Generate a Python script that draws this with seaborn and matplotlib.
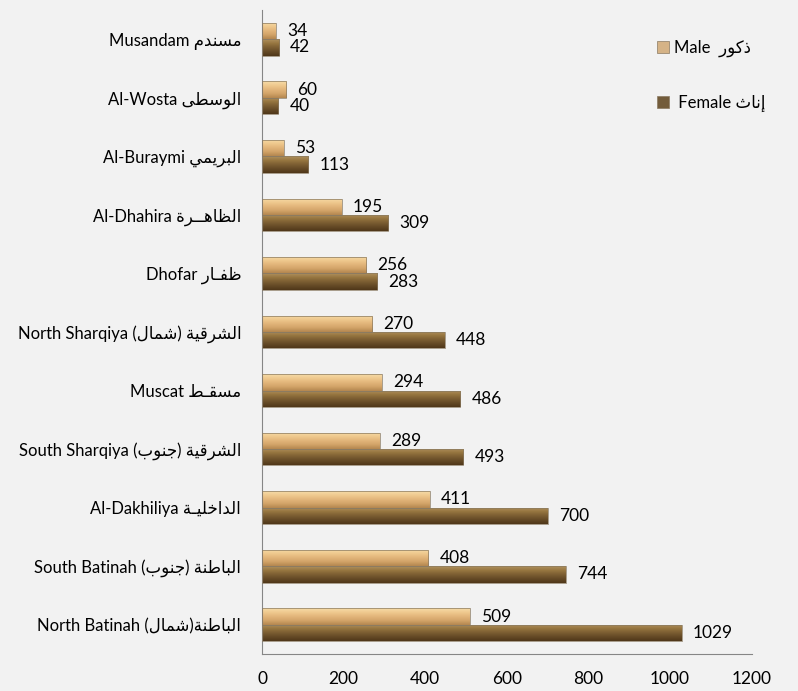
import numpy as np
import pandas as pd
import matplotlib
matplotlib.use("Agg")
import matplotlib.pyplot as plt
from matplotlib.colors import LinearSegmentedColormap
from matplotlib.ticker import FixedLocator
import seaborn as sns

# ---------------------------------------------------------------------------
# Data
# ---------------------------------------------------------------------------
regions_en = ["Musandam", "Al-Wosta", "Al-Buraymi", "Al-Dhahira", "Dhofar",
              "North Sharqiya", "Muscat", "South Sharqiya", "Al-Dakhiliya",
              "South Batinah", "North Batinah"]
regions_ar = ["مسندم", "الوسطى", "البريمي", "الظاهــرة", "ظفـار",
              "الشرقية (شمال)", "مسقـط", "الشرقية (جنوب)", "الداخليـة",
              "الباطنة (جنوب)", "الباطنة(شمال)"]
male = [34, 60, 53, 195, 256, 270, 294, 289, 411, 408, 509]
female = [42, 40, 113, 309, 283, 448, 486, 493, 700, 744, 1029]
series_en = ["Male", "Female"]
series_ar = ["ذكور", "إناث"]
x_ticks = [0, 200, 400, 600, 800, 1000, 1200]

# ---------------------------------------------------------------------------
# Arabic shaping: matplotlib does no contextual shaping or bidi reordering,
# so pick presentation forms here and lay the Arabic run out right-to-left.
# ---------------------------------------------------------------------------
FORMS = {  # isolated, final, initial, medial
    "ا": (0xFE8D, 0xFE8E, None, None),
    "إ": (0xFE87, 0xFE88, None, None),
    "ب": (0xFE8F, 0xFE90, 0xFE91, 0xFE92),
    "ة": (0xFE93, 0xFE94, None, None),
    "ث": (0xFE99, 0xFE9A, 0xFE9B, 0xFE9C),
    "ج": (0xFE9D, 0xFE9E, 0xFE9F, 0xFEA0),
    "خ": (0xFEA5, 0xFEA6, 0xFEA7, 0xFEA8),
    "د": (0xFEA9, 0xFEAA, None, None),
    "ذ": (0xFEAB, 0xFEAC, None, None),
    "ر": (0xFEAD, 0xFEAE, None, None),
    "س": (0xFEB1, 0xFEB2, 0xFEB3, 0xFEB4),
    "ش": (0xFEB5, 0xFEB6, 0xFEB7, 0xFEB8),
    "ط": (0xFEC1, 0xFEC2, 0xFEC3, 0xFEC4),
    "ظ": (0xFEC5, 0xFEC6, 0xFEC7, 0xFEC8),
    "ف": (0xFED1, 0xFED2, 0xFED3, 0xFED4),
    "ق": (0xFED5, 0xFED6, 0xFED7, 0xFED8),
    "ك": (0xFED9, 0xFEDA, 0xFEDB, 0xFEDC),
    "ل": (0xFEDD, 0xFEDE, 0xFEDF, 0xFEE0),
    "م": (0xFEE1, 0xFEE2, 0xFEE3, 0xFEE4),
    "ن": (0xFEE5, 0xFEE6, 0xFEE7, 0xFEE8),
    "ه": (0xFEE9, 0xFEEA, 0xFEEB, 0xFEEC),
    "و": (0xFEED, 0xFEEE, None, None),
    "ى": (0xFEEF, 0xFEF0, None, None),
    "ي": (0xFEF1, 0xFEF2, 0xFEF3, 0xFEF4),
}
TATWEEL = "ـ"


def _joins_next(c):
    return c == TATWEEL or (c in FORMS and FORMS[c][2] is not None)


def _is_arabic(c):
    return c == TATWEEL or c in FORMS


def ar(text):
    out = []
    for i, c in enumerate(text):
        if c not in FORMS:
            out.append(c)
            continue
        prev = text[i - 1] if i > 0 else ""
        nxt = text[i + 1] if i + 1 < len(text) else ""
        p = _joins_next(prev)
        n = _joins_next(c) and _is_arabic(nxt)
        iso, fin, ini, med = FORMS[c]
        code = med if (p and n) else fin if p else ini if n else iso
        out.append(chr(code))
    visual = "".join(reversed(out))
    return visual.translate(str.maketrans("()", ")("))


labels = [f"{e} {ar(a)}" for e, a in zip(regions_en, regions_ar)]
series_labels = [f"Male  {ar(series_ar[0])}", f" Female {ar(series_ar[1])}"]

df = pd.DataFrame({
    "region": labels * 2,
    "count": male + female,
    "sex": [series_labels[0]] * len(labels) + [series_labels[1]] * len(labels),
})

# ---------------------------------------------------------------------------
# Style
# ---------------------------------------------------------------------------
BG = "#F2F2F2"
sns.set_theme(style="white")
plt.rcParams["font.family"] = ["Lato", "DejaVu Sans"]
plt.rcParams["text.color"] = "black"
plt.rcParams["xtick.color"] = "#868686"
plt.rcParams["ytick.color"] = "#868686"
plt.rcParams["xtick.labelcolor"] = "black"
plt.rcParams["ytick.labelcolor"] = "black"

fig = plt.figure(figsize=(7.98, 6.91), dpi=100, facecolor=BG)
ax = fig.add_axes([262 / 798, 1 - 654 / 691, (751.7 - 262) / 798, (654 - 10) / 691])
ax.set_facecolor(BG)

palette = {series_labels[0]: "#E2B57A", series_labels[1]: "#7C5E32"}
sns.barplot(data=df, y="region", x="count", hue="sex", orient="h",
            palette=palette, width=0.56, ax=ax, edgecolor="#8A7A62",
            linewidth=0.5, legend=True, zorder=2)

# Bevel-like vertical shading on each bar
grad_stops = [
    ["#F6DCA8", "#EFC98E", "#E2B57A", "#D2A368", "#B4874F"],
    ["#B0915E", "#977640", "#7C5E32", "#654A26", "#4F3719"],
]
xlim, ylim = ax.get_xlim(), ax.get_ylim()
ramp = np.linspace(0, 1, 64)[:, None]
for cont, stops in zip(ax.containers, grad_stops):
    cmap = LinearSegmentedColormap.from_list("bevel", stops)
    for bar in cont:
        x0, y0 = bar.get_x(), bar.get_y()
        w, h = bar.get_width(), bar.get_height()
        im = ax.imshow(ramp, cmap=cmap, aspect="auto", origin="upper",
                       extent=[x0, x0 + w, y0 + h, y0], zorder=2.5,
                       interpolation="bilinear")
        im.set_clip_path(bar)
        bar.set_facecolor("none")
        bar.set_zorder(3)
ax.set_xlim(xlim)
ax.set_ylim(ylim)

for cont in ax.containers:
    ax.bar_label(cont, padding=8, fontsize=12.5, color="black")

# Axes
ax.set_xlim(0, 1200)
ax.set_xticks(x_ticks)
ax.set_xticklabels([str(t) for t in x_ticks], fontsize=12.5)
ax.set_xlabel("")
ax.set_ylabel("")
ax.tick_params(axis="x", direction="out", length=5, width=0.8, pad=7)
ax.tick_params(axis="y", which="major", length=0, pad=15, labelsize=12)
ax.yaxis.set_minor_locator(FixedLocator(np.arange(-0.5, len(labels), 1.0)))
ax.tick_params(axis="y", which="minor", direction="out", length=6, width=0.8)
for side in ("top", "right"):
    ax.spines[side].set_visible(False)
for side in ("left", "bottom"):
    ax.spines[side].set_color("#868686")
    ax.spines[side].set_linewidth(0.8)

sns.move_legend(ax, loc="upper left", bbox_to_anchor=(0.775, 0.977),
                frameon=False, title=None, fontsize=12,
                handlelength=0.75, handleheight=0.75, handletextpad=0.3,
                labelspacing=2.25)

fig.savefig("out.png", dpi=100, facecolor=BG)
